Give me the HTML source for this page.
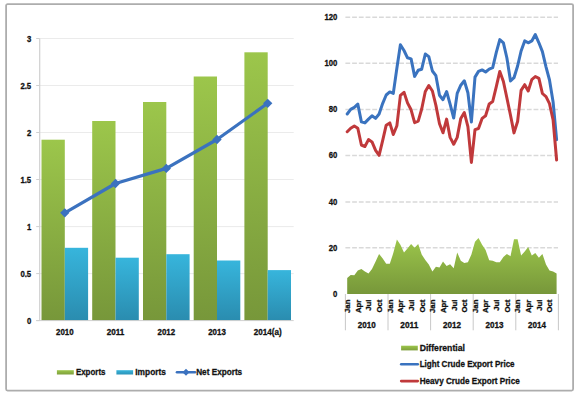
<!DOCTYPE html>
<html><head><meta charset="utf-8"><style>
html,body{margin:0;padding:0;background:#fff;width:580px;height:395px;overflow:hidden}
svg{display:block}
</style></head><body>
<svg width="580" height="395" viewBox="0 0 580 395">
<rect x="6.1" y="4.1" width="567" height="386.5" rx="1.5" fill="#fff" stroke="#adadad" stroke-width="1.8"/>
<line x1="36.2" y1="320.6" x2="39.7" y2="320.6" stroke="#d0d0d0" stroke-width="1"/>
<line x1="39.7" y1="273.6" x2="293.7" y2="273.6" stroke="#ebebeb" stroke-width="1"/>
<line x1="36.2" y1="273.6" x2="39.7" y2="273.6" stroke="#d0d0d0" stroke-width="1"/>
<line x1="39.7" y1="226.6" x2="293.7" y2="226.6" stroke="#ebebeb" stroke-width="1"/>
<line x1="36.2" y1="226.6" x2="39.7" y2="226.6" stroke="#d0d0d0" stroke-width="1"/>
<line x1="39.7" y1="179.5" x2="293.7" y2="179.5" stroke="#ebebeb" stroke-width="1"/>
<line x1="36.2" y1="179.5" x2="39.7" y2="179.5" stroke="#d0d0d0" stroke-width="1"/>
<line x1="39.7" y1="132.5" x2="293.7" y2="132.5" stroke="#ebebeb" stroke-width="1"/>
<line x1="36.2" y1="132.5" x2="39.7" y2="132.5" stroke="#d0d0d0" stroke-width="1"/>
<line x1="39.7" y1="85.5" x2="293.7" y2="85.5" stroke="#ebebeb" stroke-width="1"/>
<line x1="36.2" y1="85.5" x2="39.7" y2="85.5" stroke="#d0d0d0" stroke-width="1"/>
<line x1="39.7" y1="38.5" x2="293.7" y2="38.5" stroke="#ebebeb" stroke-width="1"/>
<line x1="36.2" y1="38.5" x2="39.7" y2="38.5" stroke="#d0d0d0" stroke-width="1"/>
<text x="31.2" y="323.8" text-anchor="end" textLength="4.3" lengthAdjust="spacingAndGlyphs" style="font-family:'Liberation Sans',sans-serif;font-weight:bold;stroke:#111;stroke-width:0.3px;font-size:9px" fill="#111">0</text>
<text x="31.2" y="276.8" text-anchor="end" textLength="10.8" lengthAdjust="spacingAndGlyphs" style="font-family:'Liberation Sans',sans-serif;font-weight:bold;stroke:#111;stroke-width:0.3px;font-size:9px" fill="#111">0.5</text>
<text x="31.2" y="229.8" text-anchor="end" textLength="4.3" lengthAdjust="spacingAndGlyphs" style="font-family:'Liberation Sans',sans-serif;font-weight:bold;stroke:#111;stroke-width:0.3px;font-size:9px" fill="#111">1</text>
<text x="31.2" y="182.7" text-anchor="end" textLength="10.8" lengthAdjust="spacingAndGlyphs" style="font-family:'Liberation Sans',sans-serif;font-weight:bold;stroke:#111;stroke-width:0.3px;font-size:9px" fill="#111">1.5</text>
<text x="31.2" y="135.7" text-anchor="end" textLength="4.3" lengthAdjust="spacingAndGlyphs" style="font-family:'Liberation Sans',sans-serif;font-weight:bold;stroke:#111;stroke-width:0.3px;font-size:9px" fill="#111">2</text>
<text x="31.2" y="88.7" text-anchor="end" textLength="10.8" lengthAdjust="spacingAndGlyphs" style="font-family:'Liberation Sans',sans-serif;font-weight:bold;stroke:#111;stroke-width:0.3px;font-size:9px" fill="#111">2.5</text>
<text x="31.2" y="41.7" text-anchor="end" textLength="4.3" lengthAdjust="spacingAndGlyphs" style="font-family:'Liberation Sans',sans-serif;font-weight:bold;stroke:#111;stroke-width:0.3px;font-size:9px" fill="#111">3</text>
<line x1="39.7" y1="38.5" x2="39.7" y2="321" stroke="#d0d0d0" stroke-width="1.2"/>
<defs><linearGradient id="gg" x1="0" y1="0" x2="0" y2="1"><stop offset="0" stop-color="#9cc64b"/><stop offset="1" stop-color="#77973a"/></linearGradient><linearGradient id="bg" x1="0" y1="0" x2="0" y2="1"><stop offset="0" stop-color="#37b5dc"/><stop offset="1" stop-color="#2a8caf"/></linearGradient><linearGradient id="ag" x1="0" y1="0" x2="0" y2="1"><stop offset="0" stop-color="#9cc64b"/><stop offset="1" stop-color="#77973a"/></linearGradient><linearGradient id="gl" x1="0" y1="0" x2="0" y2="1"><stop offset="0" stop-color="#9cc64b"/><stop offset="1" stop-color="#7e9f3c"/></linearGradient><linearGradient id="bl" x1="0" y1="0" x2="0" y2="1"><stop offset="0" stop-color="#37b5dc"/><stop offset="1" stop-color="#2d93b8"/></linearGradient></defs>
<rect x="41.5" y="139.7" width="23.3" height="180.9" fill="url(#gg)"/>
<rect x="64.8" y="247.8" width="23.3" height="72.8" fill="url(#bg)"/>
<rect x="92.2" y="121.0" width="23.3" height="199.6" fill="url(#gg)"/>
<rect x="115.5" y="257.7" width="23.3" height="62.9" fill="url(#bg)"/>
<rect x="143.0" y="102.0" width="23.3" height="218.6" fill="url(#gg)"/>
<rect x="166.3" y="254.2" width="23.3" height="66.4" fill="url(#bg)"/>
<rect x="193.7" y="76.5" width="23.3" height="244.1" fill="url(#gg)"/>
<rect x="217.0" y="260.5" width="23.3" height="60.1" fill="url(#bg)"/>
<rect x="244.4" y="52.3" width="23.3" height="268.3" fill="url(#gg)"/>
<rect x="267.7" y="270.1" width="23.3" height="50.5" fill="url(#bg)"/>
<line x1="36.2" y1="320.6" x2="293.7" y2="320.6" stroke="#d0d0d0" stroke-width="1"/>
<polyline points="64.8,212.8 115.5,183.5 166.3,168.4 217.0,139.5 267.7,103.3" fill="none" stroke="#3b72bf" stroke-width="3.2" stroke-linejoin="round"/>
<rect x="61.5" y="209.5" width="6.6" height="6.6" fill="#3b72bf" transform="rotate(45 64.8 212.8)"/>
<rect x="112.2" y="180.2" width="6.6" height="6.6" fill="#3b72bf" transform="rotate(45 115.5 183.5)"/>
<rect x="163.0" y="165.1" width="6.6" height="6.6" fill="#3b72bf" transform="rotate(45 166.3 168.4)"/>
<rect x="213.7" y="136.2" width="6.6" height="6.6" fill="#3b72bf" transform="rotate(45 217.0 139.5)"/>
<rect x="264.4" y="100.0" width="6.6" height="6.6" fill="#3b72bf" transform="rotate(45 267.7 103.3)"/>
<text x="64.8" y="334.6" text-anchor="middle" textLength="17.6" lengthAdjust="spacingAndGlyphs" style="font-family:'Liberation Sans',sans-serif;font-weight:bold;stroke:#111;stroke-width:0.3px;font-size:9px" fill="#111">2010</text>
<text x="115.5" y="334.6" text-anchor="middle" textLength="17.6" lengthAdjust="spacingAndGlyphs" style="font-family:'Liberation Sans',sans-serif;font-weight:bold;stroke:#111;stroke-width:0.3px;font-size:9px" fill="#111">2011</text>
<text x="166.3" y="334.6" text-anchor="middle" textLength="17.6" lengthAdjust="spacingAndGlyphs" style="font-family:'Liberation Sans',sans-serif;font-weight:bold;stroke:#111;stroke-width:0.3px;font-size:9px" fill="#111">2012</text>
<text x="217.0" y="334.6" text-anchor="middle" textLength="17.6" lengthAdjust="spacingAndGlyphs" style="font-family:'Liberation Sans',sans-serif;font-weight:bold;stroke:#111;stroke-width:0.3px;font-size:9px" fill="#111">2013</text>
<text x="267.7" y="334.6" text-anchor="middle" textLength="27.9" lengthAdjust="spacingAndGlyphs" style="font-family:'Liberation Sans',sans-serif;font-weight:bold;stroke:#111;stroke-width:0.3px;font-size:9px" fill="#111">2014(a)</text>
<rect x="56.9" y="370.2" width="16.9" height="4.3" fill="url(#gl)"/>
<text x="75.9" y="375.3" textLength="29.6" lengthAdjust="spacingAndGlyphs" style="font-family:'Liberation Sans',sans-serif;font-weight:bold;stroke:#111;stroke-width:0.3px;font-size:9.5px" fill="#111">Exports</text>
<rect x="116.4" y="370.2" width="16.7" height="4.3" fill="url(#bl)"/>
<text x="135.3" y="375.3" textLength="30.6" lengthAdjust="spacingAndGlyphs" style="font-family:'Liberation Sans',sans-serif;font-weight:bold;stroke:#111;stroke-width:0.3px;font-size:9.5px" fill="#111">Imports</text>
<line x1="177" y1="372.3" x2="195" y2="372.3" stroke="#3b72bf" stroke-width="2.6" stroke-linecap="round"/>
<rect x="183.5" y="369.8" width="5" height="5" fill="#3b72bf" transform="rotate(45 186 372.3)"/>
<text x="196.2" y="375.3" textLength="46" lengthAdjust="spacingAndGlyphs" style="font-family:'Liberation Sans',sans-serif;font-weight:bold;stroke:#111;stroke-width:0.3px;font-size:9.5px" fill="#111">Net Exports</text>
<line x1="345.4" y1="17.2" x2="558" y2="17.2" stroke="#d9d9d9" stroke-width="1.5" stroke-dasharray="4.8,1.92"/>
<text x="337.3" y="19.9" text-anchor="end" textLength="12.9" lengthAdjust="spacingAndGlyphs" style="font-family:'Liberation Sans',sans-serif;font-weight:bold;stroke:#111;stroke-width:0.3px;font-size:9px" fill="#111">120</text>
<line x1="345.4" y1="63.3" x2="558" y2="63.3" stroke="#d9d9d9" stroke-width="1.5" stroke-dasharray="4.8,1.92"/>
<text x="337.3" y="66.0" text-anchor="end" textLength="12.9" lengthAdjust="spacingAndGlyphs" style="font-family:'Liberation Sans',sans-serif;font-weight:bold;stroke:#111;stroke-width:0.3px;font-size:9px" fill="#111">100</text>
<line x1="345.4" y1="109.6" x2="558" y2="109.6" stroke="#d9d9d9" stroke-width="1.5" stroke-dasharray="4.8,1.92"/>
<text x="337.3" y="112.3" text-anchor="end" textLength="8.6" lengthAdjust="spacingAndGlyphs" style="font-family:'Liberation Sans',sans-serif;font-weight:bold;stroke:#111;stroke-width:0.3px;font-size:9px" fill="#111">80</text>
<line x1="345.4" y1="155.5" x2="558" y2="155.5" stroke="#d9d9d9" stroke-width="1.5" stroke-dasharray="4.8,1.92"/>
<text x="337.3" y="158.2" text-anchor="end" textLength="8.6" lengthAdjust="spacingAndGlyphs" style="font-family:'Liberation Sans',sans-serif;font-weight:bold;stroke:#111;stroke-width:0.3px;font-size:9px" fill="#111">60</text>
<line x1="345.4" y1="202.0" x2="558" y2="202.0" stroke="#d9d9d9" stroke-width="1.5" stroke-dasharray="4.8,1.92"/>
<text x="337.3" y="204.7" text-anchor="end" textLength="8.6" lengthAdjust="spacingAndGlyphs" style="font-family:'Liberation Sans',sans-serif;font-weight:bold;stroke:#111;stroke-width:0.3px;font-size:9px" fill="#111">40</text>
<line x1="345.4" y1="247.8" x2="558" y2="247.8" stroke="#d9d9d9" stroke-width="1.5" stroke-dasharray="4.8,1.92"/>
<text x="337.3" y="250.5" text-anchor="end" textLength="8.6" lengthAdjust="spacingAndGlyphs" style="font-family:'Liberation Sans',sans-serif;font-weight:bold;stroke:#111;stroke-width:0.3px;font-size:9px" fill="#111">20</text>
<text x="337.3" y="296.6" text-anchor="end" textLength="4.3" lengthAdjust="spacingAndGlyphs" style="font-family:'Liberation Sans',sans-serif;font-weight:bold;stroke:#111;stroke-width:0.3px;font-size:9px" fill="#111">0</text>
<path d="M347.2,293.9 L347.2,278.0 L350.7,275.0 L354.3,275.2 L357.8,270.6 L361.4,269.0 L364.9,271.4 L368.5,273.6 L372.0,269.0 L375.6,261.5 L379.1,253.9 L382.7,258.4 L386.2,263.8 L389.8,263.8 L393.3,253.1 L396.9,239.4 L400.4,244.8 L404.0,252.4 L407.5,248.6 L411.1,244.0 L414.6,247.8 L418.2,244.0 L421.7,254.6 L425.3,260.0 L428.8,264.5 L432.4,271.4 L435.9,266.8 L439.5,267.6 L443.0,261.5 L446.6,266.0 L450.1,264.2 L453.7,268.3 L457.2,252.4 L460.8,260.7 L464.3,263.0 L467.9,262.2 L471.4,254.6 L475.0,241.7 L478.5,237.9 L482.1,244.8 L485.6,250.1 L489.2,260.3 L492.7,260.7 L496.3,262.2 L499.8,262.2 L503.4,256.9 L506.9,253.9 L510.5,256.2 L514.0,239.3 L517.6,239.3 L521.1,255.6 L524.7,251.6 L528.2,247.0 L531.8,255.4 L535.3,253.1 L538.9,257.7 L542.4,253.9 L546.0,264.5 L549.5,270.6 L553.1,271.4 L556.6,273.6 L556.6,293.9 Z" fill="url(#ag)"/>
<polyline points="347.2,114.0 350.7,109.4 354.3,107.4 357.8,104.1 361.4,121.9 364.9,122.9 368.5,119.1 372.0,115.8 375.6,118.4 379.1,114.0 382.7,103.3 386.2,95.0 389.8,91.9 393.3,93.4 396.9,68.0 400.4,44.7 404.0,50.5 407.5,57.8 411.1,58.9 414.6,76.4 418.2,70.3 421.7,69.2 425.3,54.0 428.8,56.6 432.4,71.0 435.9,75.7 439.5,95.3 443.0,99.7 446.6,91.5 450.1,104.2 453.7,118.0 457.2,93.4 460.8,85.2 464.3,80.8 467.9,92.8 471.4,122.0 475.0,77.1 478.5,71.4 482.1,69.9 485.6,72.0 489.2,69.1 492.7,67.6 496.3,52.3 499.8,39.6 503.4,42.8 506.9,58.0 510.5,80.9 514.0,77.7 517.6,66.0 521.1,51.0 524.7,40.9 528.2,42.8 531.8,40.9 535.3,34.6 538.9,42.8 542.4,51.6 546.0,66.8 549.5,80.0 553.1,102.0 556.6,139.7" fill="none" stroke="#3a73bf" stroke-width="3" stroke-linejoin="round" stroke-linecap="round"/>
<polyline points="347.2,131.7 350.7,128.2 354.3,126.0 357.8,128.2 361.4,145.0 364.9,146.5 368.5,139.6 372.0,141.9 375.6,150.3 379.1,155.3 382.7,140.4 386.2,125.2 389.8,122.9 393.3,134.5 396.9,125.7 400.4,95.3 404.0,92.3 407.5,102.9 411.1,109.8 414.6,122.7 418.2,121.2 421.7,109.0 425.3,91.5 428.8,85.5 432.4,91.0 435.9,105.4 439.5,123.7 443.0,132.8 446.6,119.1 450.1,137.4 453.7,144.2 457.2,137.4 460.8,118.4 464.3,112.5 467.9,126.7 471.4,162.4 475.0,129.7 478.5,128.5 482.1,118.4 485.6,115.8 489.2,104.0 492.7,101.5 496.3,86.6 499.8,71.4 503.4,81.5 506.9,98.0 510.5,115.2 514.0,132.9 517.6,121.5 521.1,90.4 524.7,84.7 528.2,91.0 531.8,79.6 535.3,76.5 538.9,78.4 542.4,93.5 546.0,96.7 549.5,103.7 553.1,120.0 556.6,160.0" fill="none" stroke="#c0393b" stroke-width="3" stroke-linejoin="round" stroke-linecap="round"/>
<line x1="345.4" y1="294" x2="345.4" y2="330.3" stroke="#c8c8c8" stroke-width="1"/>
<line x1="388.0" y1="294" x2="388.0" y2="330.3" stroke="#c8c8c8" stroke-width="1"/>
<line x1="430.6" y1="294" x2="430.6" y2="330.3" stroke="#c8c8c8" stroke-width="1"/>
<line x1="473.2" y1="294" x2="473.2" y2="330.3" stroke="#c8c8c8" stroke-width="1"/>
<line x1="515.8" y1="294" x2="515.8" y2="330.3" stroke="#c8c8c8" stroke-width="1"/>
<line x1="558.4" y1="294" x2="558.4" y2="330.3" stroke="#c8c8c8" stroke-width="1"/>
<text transform="translate(350.0,299.6) rotate(-90)" x="0" y="0" text-anchor="end" style="font-family:'Liberation Sans',sans-serif;font-weight:bold;stroke:#111;stroke-width:0.3px;font-size:7.8px" fill="#111">Jan</text>
<text transform="translate(360.6,299.6) rotate(-90)" x="0" y="0" text-anchor="end" style="font-family:'Liberation Sans',sans-serif;font-weight:bold;stroke:#111;stroke-width:0.3px;font-size:7.8px" fill="#111">Apr</text>
<text transform="translate(371.3,299.6) rotate(-90)" x="0" y="0" text-anchor="end" style="font-family:'Liberation Sans',sans-serif;font-weight:bold;stroke:#111;stroke-width:0.3px;font-size:7.8px" fill="#111">Jul</text>
<text transform="translate(381.9,299.6) rotate(-90)" x="0" y="0" text-anchor="end" style="font-family:'Liberation Sans',sans-serif;font-weight:bold;stroke:#111;stroke-width:0.3px;font-size:7.8px" fill="#111">Oct</text>
<text x="366.7" y="327.8" text-anchor="middle" textLength="18" lengthAdjust="spacingAndGlyphs" style="font-family:'Liberation Sans',sans-serif;font-weight:bold;stroke:#111;stroke-width:0.3px;font-size:9px" fill="#111">2010</text>
<text transform="translate(392.6,299.6) rotate(-90)" x="0" y="0" text-anchor="end" style="font-family:'Liberation Sans',sans-serif;font-weight:bold;stroke:#111;stroke-width:0.3px;font-size:7.8px" fill="#111">Jan</text>
<text transform="translate(403.2,299.6) rotate(-90)" x="0" y="0" text-anchor="end" style="font-family:'Liberation Sans',sans-serif;font-weight:bold;stroke:#111;stroke-width:0.3px;font-size:7.8px" fill="#111">Apr</text>
<text transform="translate(413.9,299.6) rotate(-90)" x="0" y="0" text-anchor="end" style="font-family:'Liberation Sans',sans-serif;font-weight:bold;stroke:#111;stroke-width:0.3px;font-size:7.8px" fill="#111">Jul</text>
<text transform="translate(424.5,299.6) rotate(-90)" x="0" y="0" text-anchor="end" style="font-family:'Liberation Sans',sans-serif;font-weight:bold;stroke:#111;stroke-width:0.3px;font-size:7.8px" fill="#111">Oct</text>
<text x="409.3" y="327.8" text-anchor="middle" textLength="18" lengthAdjust="spacingAndGlyphs" style="font-family:'Liberation Sans',sans-serif;font-weight:bold;stroke:#111;stroke-width:0.3px;font-size:9px" fill="#111">2011</text>
<text transform="translate(435.2,299.6) rotate(-90)" x="0" y="0" text-anchor="end" style="font-family:'Liberation Sans',sans-serif;font-weight:bold;stroke:#111;stroke-width:0.3px;font-size:7.8px" fill="#111">Jan</text>
<text transform="translate(445.8,299.6) rotate(-90)" x="0" y="0" text-anchor="end" style="font-family:'Liberation Sans',sans-serif;font-weight:bold;stroke:#111;stroke-width:0.3px;font-size:7.8px" fill="#111">Apr</text>
<text transform="translate(456.5,299.6) rotate(-90)" x="0" y="0" text-anchor="end" style="font-family:'Liberation Sans',sans-serif;font-weight:bold;stroke:#111;stroke-width:0.3px;font-size:7.8px" fill="#111">Jul</text>
<text transform="translate(467.1,299.6) rotate(-90)" x="0" y="0" text-anchor="end" style="font-family:'Liberation Sans',sans-serif;font-weight:bold;stroke:#111;stroke-width:0.3px;font-size:7.8px" fill="#111">Oct</text>
<text x="451.9" y="327.8" text-anchor="middle" textLength="18" lengthAdjust="spacingAndGlyphs" style="font-family:'Liberation Sans',sans-serif;font-weight:bold;stroke:#111;stroke-width:0.3px;font-size:9px" fill="#111">2012</text>
<text transform="translate(477.8,299.6) rotate(-90)" x="0" y="0" text-anchor="end" style="font-family:'Liberation Sans',sans-serif;font-weight:bold;stroke:#111;stroke-width:0.3px;font-size:7.8px" fill="#111">Jan</text>
<text transform="translate(488.4,299.6) rotate(-90)" x="0" y="0" text-anchor="end" style="font-family:'Liberation Sans',sans-serif;font-weight:bold;stroke:#111;stroke-width:0.3px;font-size:7.8px" fill="#111">Apr</text>
<text transform="translate(499.1,299.6) rotate(-90)" x="0" y="0" text-anchor="end" style="font-family:'Liberation Sans',sans-serif;font-weight:bold;stroke:#111;stroke-width:0.3px;font-size:7.8px" fill="#111">Jul</text>
<text transform="translate(509.7,299.6) rotate(-90)" x="0" y="0" text-anchor="end" style="font-family:'Liberation Sans',sans-serif;font-weight:bold;stroke:#111;stroke-width:0.3px;font-size:7.8px" fill="#111">Oct</text>
<text x="494.5" y="327.8" text-anchor="middle" textLength="18" lengthAdjust="spacingAndGlyphs" style="font-family:'Liberation Sans',sans-serif;font-weight:bold;stroke:#111;stroke-width:0.3px;font-size:9px" fill="#111">2013</text>
<text transform="translate(520.4,299.6) rotate(-90)" x="0" y="0" text-anchor="end" style="font-family:'Liberation Sans',sans-serif;font-weight:bold;stroke:#111;stroke-width:0.3px;font-size:7.8px" fill="#111">Jan</text>
<text transform="translate(531.0,299.6) rotate(-90)" x="0" y="0" text-anchor="end" style="font-family:'Liberation Sans',sans-serif;font-weight:bold;stroke:#111;stroke-width:0.3px;font-size:7.8px" fill="#111">Apr</text>
<text transform="translate(541.7,299.6) rotate(-90)" x="0" y="0" text-anchor="end" style="font-family:'Liberation Sans',sans-serif;font-weight:bold;stroke:#111;stroke-width:0.3px;font-size:7.8px" fill="#111">Jul</text>
<text transform="translate(552.3,299.6) rotate(-90)" x="0" y="0" text-anchor="end" style="font-family:'Liberation Sans',sans-serif;font-weight:bold;stroke:#111;stroke-width:0.3px;font-size:7.8px" fill="#111">Oct</text>
<text x="537.1" y="327.8" text-anchor="middle" textLength="18" lengthAdjust="spacingAndGlyphs" style="font-family:'Liberation Sans',sans-serif;font-weight:bold;stroke:#111;stroke-width:0.3px;font-size:9px" fill="#111">2014</text>
<rect x="401.1" y="345.7" width="16.7" height="4.7" fill="url(#gl)"/>
<text x="419.7" y="350.9" textLength="45.2" lengthAdjust="spacingAndGlyphs" style="font-family:'Liberation Sans',sans-serif;font-weight:bold;stroke:#111;stroke-width:0.3px;font-size:9.5px" fill="#111">Differential</text>
<line x1="401.2" y1="364.3" x2="417.8" y2="364.3" stroke="#3a73bf" stroke-width="2.6" stroke-linecap="round"/>
<text x="419.7" y="367.3" textLength="94.9" lengthAdjust="spacingAndGlyphs" style="font-family:'Liberation Sans',sans-serif;font-weight:bold;stroke:#111;stroke-width:0.3px;font-size:9.5px" fill="#111">Light Crude Export Price</text>
<line x1="401.2" y1="381.1" x2="417.8" y2="381.1" stroke="#c0393b" stroke-width="2.6" stroke-linecap="round"/>
<text x="419.7" y="383.8" textLength="100" lengthAdjust="spacingAndGlyphs" style="font-family:'Liberation Sans',sans-serif;font-weight:bold;stroke:#111;stroke-width:0.3px;font-size:9.5px" fill="#111">Heavy Crude Export Price</text>
</svg>
</body></html>
